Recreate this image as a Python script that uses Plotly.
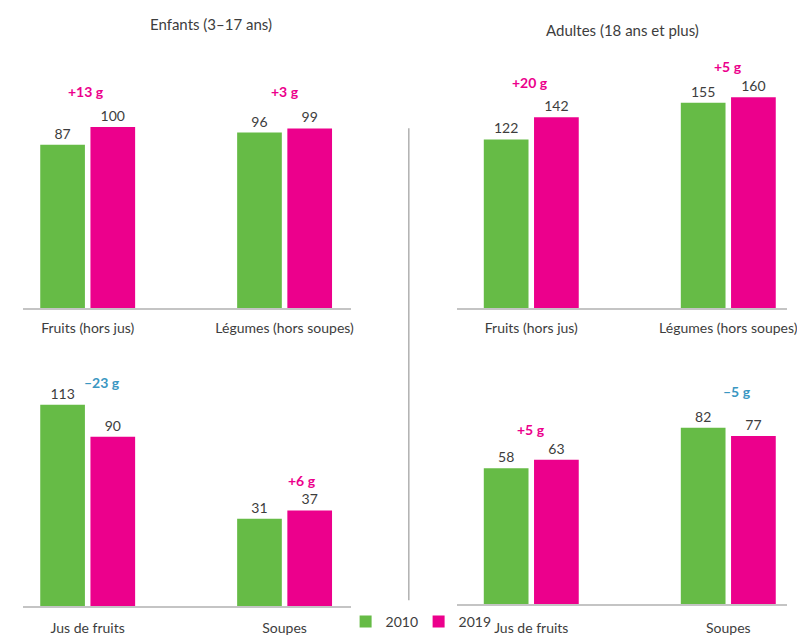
import plotly.graph_objects as go

# Average daily consumption (g/day), 2010 vs 2019
years = ["2010", "2019"]
categories_top = ["Fruits (hors jus)", "Légumes (hors soupes)"]
categories_bottom = ["Jus de fruits", "Soupes"]

enfants_top_2010 = [87, 96]
enfants_top_2019 = [100, 99]
enfants_bottom_2010 = [113, 31]
enfants_bottom_2019 = [90, 37]

adultes_top_2010 = [122, 155]
adultes_top_2019 = [142, 160]
adultes_bottom_2010 = [58, 82]
adultes_bottom_2019 = [63, 77]

panel_titles = ["Enfants (3–17 ans)", "Adultes (18 ans et plus)"]

W, H = 797, 638
GREEN = "#66bb46"
PINK = "#ec008c"
BLUE = "#3a97c2"
TXT = "#3d3d3d"
FONT = "Lato, Roboto, sans-serif"

# per panel: axis suffix, categories, values, axis floor, px per unit,
# x pixel span, baseline px, top px, x range, delta label shifts, tick standoff
panels = [
    dict(ax="", cats=categories_top, a=enfants_top_2010, b=enfants_top_2019,
         floor=-32, scale=1.38, x0=23, x1=355, base=310, top=40,
         xr=[-0.33, 1.335], shifts=[(-2, 36), (0, 37)], standoff=6),
    dict(ax="2", cats=categories_top, a=adultes_top_2010, b=adultes_top_2019,
         floor=-29.5, scale=1.12, x0=463, x1=797, base=310, top=40,
         xr=[-0.376, 1.298], shifts=[(-1, 35), (0, 31)], standoff=6),
    dict(ax="3", cats=categories_bottom, a=enfants_bottom_2010, b=enfants_bottom_2019,
         floor=-31.8, scale=1.40, x0=23, x1=355, base=610, top=340,
         xr=[-0.33, 1.335], shifts=[(14, 22), (17, 30)], standoff=8),
    dict(ax="4", cats=categories_bottom, a=adultes_bottom_2010, b=adultes_bottom_2019,
         floor=-22.5, scale=1.70, x0=463, x1=797, base=608, top=340,
         xr=[-0.376, 1.298], shifts=[(0, 30), (9, 36)], standoff=10),
]

fig = go.Figure()
annotations = []
layout = {}

for i, p in enumerate(panels):
    xa = "x" + p["ax"]
    ya = "y" + p["ax"]
    for year, vals, color in ((years[0], p["a"], GREEN), (years[1], p["b"], PINK)):
        fig.add_trace(go.Bar(
            x=p["cats"],
            y=[v - p["floor"] for v in vals],
            base=p["floor"],
            name=year,
            legendgroup=year,
            showlegend=(i == 0),
            marker=dict(color=color, line=dict(width=0)),
            text=[str(v) for v in vals],
            textposition="outside",
            textfont=dict(family=FONT, size=14, color=TXT),
            cliponaxis=False,
            customdata=vals,
            hovertemplate="%{x}<br>" + year + " : %{customdata} g<extra></extra>",
            xaxis=xa, yaxis=ya,
        ))
    y_top = p["floor"] + (p["base"] - p["top"]) / p["scale"]
    layout["xaxis" + p["ax"]] = dict(
        domain=[p["x0"] / W, min(p["x1"] / W, 1.0)], anchor=ya,
        range=p["xr"], showline=True, linecolor="#c4c4c4", linewidth=1.5,
        showgrid=False, zeroline=False, ticks="", ticklabelstandoff=p["standoff"],
        tickfont=dict(family=FONT, size=14, color=TXT),
    )
    layout["yaxis" + p["ax"]] = dict(
        domain=[1 - p["base"] / H, 1 - p["top"] / H], anchor=xa,
        range=[p["floor"], y_top], visible=False,
    )
    # change between the two years above each pair of bars
    for cat, va, vb, (dx, dy) in zip(p["cats"], p["a"], p["b"], p["shifts"]):
        d = vb - va
        label = ("+%d g" % d) if d >= 0 else ("–%d g" % -d)
        annotations.append(dict(
            x=cat, y=max(va, vb), xref=xa, yref=ya,
            text="<b>" + label + "</b>", showarrow=False,
            xshift=dx, yshift=dy, yanchor="middle", xanchor="center",
            font=dict(family=FONT, size=14, color=PINK if d >= 0 else BLUE),
        ))

annotations.append(dict(x=214 / W, y=1 - 24 / H, xref="paper", yref="paper",
                        xanchor="center", yanchor="middle",
                        text=panel_titles[0], showarrow=False,
                        font=dict(family=FONT, size=15, color=TXT)))
annotations.append(dict(x=630 / W, y=1 - 30 / H, xref="paper", yref="paper",
                        xanchor="center", yanchor="middle",
                        text=panel_titles[1], showarrow=False,
                        font=dict(family=FONT, size=15, color=TXT)))

fig.update_layout(
    **layout,
    width=W, height=H,
    margin=dict(l=0, r=0, t=0, b=0),
    paper_bgcolor="white", plot_bgcolor="white",
    barmode="group", bargap=0.49, bargroupgap=0.11,
    annotations=annotations,
    showlegend=True,
    legend=dict(orientation="h", x=350 / W, y=1 - 626 / H, xanchor="left",
                yanchor="middle", font=dict(family=FONT, size=14, color=TXT),
                itemwidth=30, entrywidth=28, entrywidthmode="pixels",
                bgcolor="rgba(0,0,0,0)", tracegroupgap=0),
    shapes=[dict(type="line", xref="paper", yref="paper",
                 x0=414 / W, x1=414 / W, y0=1 - 129 / H, y1=1 - 604 / H,
                 line=dict(color="#b0b0b0", width=1.5))],
    font=dict(family=FONT),
)

fig.write_html("out.html")
